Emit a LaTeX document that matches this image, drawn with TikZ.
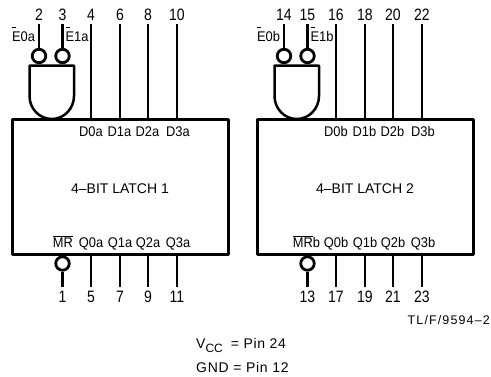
\documentclass[tikz,border=0pt]{standalone}
\usepackage{fontspec}
\setmainfont{Liberation Sans}
\newcommand{\ovbar}[1]{\leavevmode\hbox{\vbox{\hrule height .7pt \kern 1.2pt\hbox{#1}}}}
\newcommand{\ovsmall}[1]{\leavevmode\rlap{\raisebox{14.5pt}{\rule{4.5pt}{.5pt}}}#1}
\newcommand{\narrow}[1]{\scalebox{.85}[1]{#1}}
\newcommand{\narsig}[1]{\scalebox{.92}[1]{#1}}
\tikzset{
 x=1pt,y=-1pt,
 wire/.style={line width=2.3pt},
 chip/.style={draw,line width=3pt,minimum width=216pt,minimum height=135pt,inner sep=0pt,line join=round},
 bub/.style={circle,draw,line width=2.8pt,minimum size=13.5pt,inner sep=0pt},
 pin/.style={inner sep=0pt,font=\fontsize{16.5}{17}\selectfont,anchor=base},
 sig/.style={inner sep=0pt,font=\fontsize{14}{15}\selectfont,anchor=base},
 ttl/.style={inner sep=0pt,font=\fontsize{14}{15}\selectfont,anchor=base},
 note/.style={inner sep=0pt,font=\fontsize{14}{15}\selectfont,anchor=base west},
 gateline/.style={line width=2.5pt,line join=round},
}
\newcommand{\latch}[9]{%
\begin{scope}[xshift=#2pt]
\node[chip] (#1chip) at (120.5,186.5) {};
\node[ttl] (#1title) at (120,193) {4–BIT LATCH #4};
\foreach \s/\x in {0/91,1/119.5,2/147.5,3/178}
  \node[sig] (#1d\s) at (\x,136.7) {\narsig{D\s#3}};
\foreach \s/\x in {0/91,1/120,2/148,3/178}
  \node[sig] (#1q\s) at (\x,247.5) {\narsig{Q\s#3}};
\node[sig] (#1mrl) at (\mrx,247.5) {\narsig{\ovbar{MR}#9}};
\foreach \pa/\x in {#6}{
  \node[pin] (#1p\pa) at (\x,20.5) {\narrow{\pa}};
  \coordinate (#1c\pa) at (\x,24);
  \draw[wire] (#1c\pa) -- (#1c\pa |- #1chip.north);
}
\foreach \pa/\x in {#8}{
  \node[pin] (#1p\pa) at (\x,302) {\narrow{\pa}};
  \coordinate (#1c\pa) at (\x,287);
  \draw[wire] (#1c\pa) -- (#1c\pa |- #1chip.south);
}
\foreach \pa/\x/\nm in {#5}{
  \node[pin] (#1p\pa) at (\x,20.5) {\narrow{\pa}};
  \coordinate (#1c\pa) at (\x,24);
  \node[bub] (#1b\nm) at (\x,56) {};
  \draw[wire] (#1c\pa) -- (#1b\nm.north);
}
\node[sig] (#1e0) at (23.5,41.5) {\narsig{\ovsmall{E}0#3}};
\node[sig] (#1e1) at (77,41.5) {\narsig{\ovsmall{E}1#3}};
\draw[gateline] (29.5,65.5) -- (74,65.5) -- (74,96) arc[start angle=0,end angle=-180,x radius=22.25,y radius=-23] -- cycle;
\node[bub] (#1bm) at (62.5,263.5) {};
\node[pin] (#1pm) at (62.5,302) {\narrow{#7}};
\coordinate (#1cm) at (62.5,287);
\draw[wire] (#1bm.south) -- (#1cm);
\end{scope}}
\begin{document}
\begin{tikzpicture}
\useasboundingbox (0,0) rectangle (491,376);
\def\mrx{63}
\latch{A}{0}{a}{1}{2/39/x,3/62.5/y}{4/91,6/120,8/148,10/177}{1}{5/91,7/120,9/148,11/177}{}
\def\mrx{61.5}
\latch{B}{245}{b}{2}{14/39/x,15/62.5/y}{16/91,18/120,20/148,22/177}{13}{17/91,19/120,21/148,23/177}{b}
\node[inner sep=0pt,font=\fontsize{12.5}{13}\selectfont,anchor=base east] (tl) at (490,324)
  {\addfontfeature{LetterSpace=9}TL/F/9594–2};
\node[note] (vcc) at (196,348) {V\raisebox{-4pt}{\fontsize{12}{12}\selectfont CC}\kern 4pt\ {\addfontfeature{LetterSpace=5}= Pin 24}};
\node[note] (gnd) at (196,372) {\addfontfeature{LetterSpace=5}GND = Pin 12};
\end{tikzpicture}
\end{document}
